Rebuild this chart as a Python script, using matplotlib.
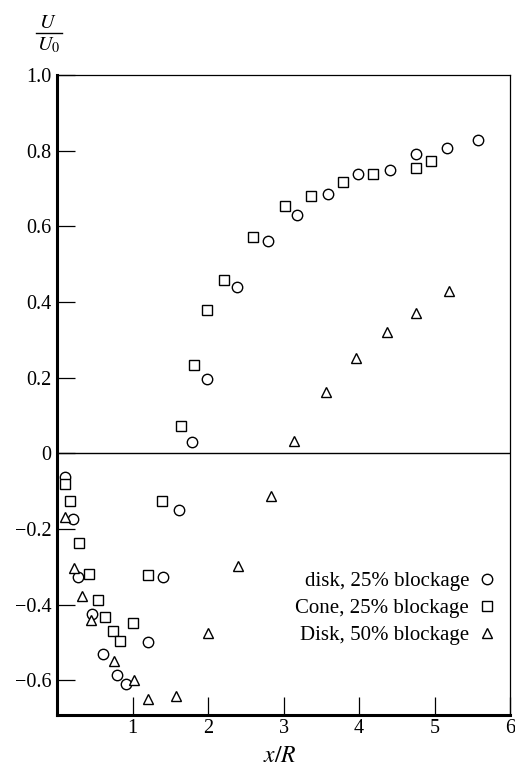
import matplotlib
matplotlib.use("Agg")
import matplotlib.pyplot as plt
from matplotlib.lines import Line2D

# data
disk25_x = [0.10, 0.21, 0.28, 0.46, 0.61, 0.80, 0.91, 1.20, 1.40, 1.61,
            1.79, 1.99, 2.39, 2.80, 3.18, 3.59, 3.99, 4.41, 4.75, 5.17, 5.57]
disk25_y = [-0.063, -0.173, -0.326, -0.426, -0.532, -0.587, -0.611, -0.50, -0.328, -0.15,
            0.029, 0.197, 0.44, 0.56, 0.63, 0.685, 0.737, 0.749, 0.79, 0.808, 0.827]

cone25_x = [0.11, 0.17, 0.29, 0.42, 0.54, 0.64, 0.74, 0.83, 1.00, 1.21, 1.39,
            1.64, 1.81, 1.99, 2.21, 2.59, 3.02, 3.36, 3.79, 4.19, 4.75, 4.95]
cone25_y = [-0.081, -0.126, -0.236, -0.319, -0.389, -0.433, -0.47, -0.497, -0.449, -0.321, -0.125,
            0.073, 0.233, 0.378, 0.459, 0.573, 0.653, 0.681, 0.716, 0.738, 0.753, 0.772]

disk50_x = [0.10, 0.22, 0.33, 0.45, 0.76, 1.02, 1.20, 1.58, 2.00, 2.40, 2.83,
            3.14, 3.56, 3.96, 4.37, 4.75, 5.19]
disk50_y = [-0.168, -0.304, -0.378, -0.442, -0.549, -0.60, -0.65, -0.641, -0.475, -0.297, -0.113,
            0.032, 0.161, 0.253, 0.321, 0.371, 0.428]

labels = ["disk, 25% blockage", "Cone, 25% blockage", "Disk, 50% blockage"]

x_ticks = [1, 2, 3, 4, 5, 6]
x_ticklabels = ["1", "2", "3", "4", "5", "6"]
y_ticks = [1.0, 0.8, 0.6, 0.4, 0.2, 0, -0.2, -0.4, -0.6]
y_ticklabels = ["1.0", "0.8", "0.6", "0.4", "0.2", "0", "\u22120.2", "\u22120.4", "\u22120.6"]

plt.rcParams["font.family"] = ["Liberation Serif", "DejaVu Serif"]
plt.rcParams["mathtext.fontset"] = "stix"

fig = plt.figure(figsize=(5.15, 7.69), dpi=100)
ax = fig.add_axes([57 / 515, 54 / 769, 453 / 515, 640 / 769])
ax.set_xlim(0, 6)
ax.set_ylim(-0.692, 1.0)

# zero line
ax.axhline(0, color="black", lw=1.0, zorder=1)

style = dict(linestyle="none", markerfacecolor="white", markeredgecolor="black",
             markeredgewidth=1.0, zorder=3)
ax.plot(disk25_x, disk25_y, marker="o", markersize=7.5, label=labels[0], **style)
ax.plot(cone25_x, cone25_y, marker="s", markersize=7.2, label=labels[1], **style)
ax.plot(disk50_x, disk50_y, marker="^", markersize=6.5, label=labels[2], **style)

# spines: heavy left/bottom, thin top/right
ax.spines["left"].set_linewidth(2.2)
ax.spines["bottom"].set_linewidth(2.2)
ax.spines["top"].set_linewidth(0.9)
ax.spines["right"].set_linewidth(0.9)

ax.set_xticks(x_ticks)
ax.set_xticklabels(x_ticklabels)
ax.set_yticks(y_ticks)
ax.set_yticklabels(y_ticklabels)
ax.tick_params(direction="in", length=13, width=0.9, labelsize=14.5, pad=4)
ax.tick_params(axis="x", pad=3)

# legend centred on the middle row (y = -0.405 in data units)
leg = ax.legend(loc="center right", bbox_to_anchor=(0.967, 0.1666),
                frameon=False, markerfirst=False, fontsize=15,
                handlelength=0.8, handletextpad=0.45, labelspacing=0.35,
                borderaxespad=0, borderpad=0)

# axis labels
fig.text(280 / 515, 1 - 757 / 769, "$x/R$", ha="center", va="center", fontsize=17)
fig.text(48 / 515, 1 - 24 / 769, "$U$", ha="center", va="center", fontsize=14.5)
fig.add_artist(Line2D([36 / 515, 62 / 515], [1 - 33 / 769, 1 - 33 / 769],
                      color="black", lw=1.0))
fig.text(49 / 515, 1 - 45 / 769, "$U_0$", ha="center", va="center", fontsize=14.5)

fig.savefig("out.png", dpi=100)
